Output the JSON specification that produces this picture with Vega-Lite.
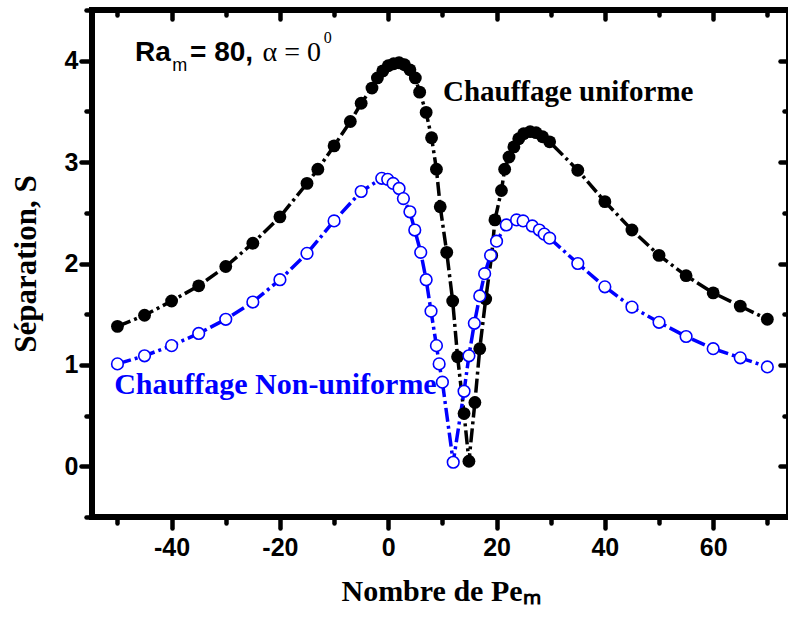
{
  "$schema": "https://vega.github.io/schema/vega-lite/v6.json",
  "width": 697,
  "height": 507,
  "autosize": {"type": "none"},
  "padding": {"left": 92, "top": 10, "right": 0, "bottom": 105},
  "background": "white",
  "config": {
    "view": {"stroke": "black", "strokeWidth": 6},
    "axis": {
      "domain": false,
      "grid": false,
      "tickColor": "black",
      "tickWidth": 4.5,
      "tickCap": "round",
      "labelFont": "Liberation Sans",
      "labelFontWeight": "bold",
      "labelFontSize": 25,
      "labelColor": "black",
      "titleFont": "Liberation Serif",
      "titleFontWeight": "bold",
      "titleFontSize": 30,
      "titleColor": "black"
    }
  },
  "data": {
    "values": [
      {"series": "Chauffage uniforme", "x": -50, "y": 1.38},
      {"series": "Chauffage uniforme", "x": -45, "y": 1.49},
      {"series": "Chauffage uniforme", "x": -40, "y": 1.63},
      {"series": "Chauffage uniforme", "x": -35, "y": 1.78},
      {"series": "Chauffage uniforme", "x": -30, "y": 1.97},
      {"series": "Chauffage uniforme", "x": -25, "y": 2.20},
      {"series": "Chauffage uniforme", "x": -20, "y": 2.46},
      {"series": "Chauffage uniforme", "x": -15, "y": 2.79},
      {"series": "Chauffage uniforme", "x": -13, "y": 2.93},
      {"series": "Chauffage uniforme", "x": -10, "y": 3.16},
      {"series": "Chauffage uniforme", "x": -7, "y": 3.40},
      {"series": "Chauffage uniforme", "x": -5, "y": 3.58},
      {"series": "Chauffage uniforme", "x": -3, "y": 3.73},
      {"series": "Chauffage uniforme", "x": -2, "y": 3.83},
      {"series": "Chauffage uniforme", "x": -1, "y": 3.90},
      {"series": "Chauffage uniforme", "x": 0, "y": 3.95},
      {"series": "Chauffage uniforme", "x": 1, "y": 3.97},
      {"series": "Chauffage uniforme", "x": 2, "y": 3.98},
      {"series": "Chauffage uniforme", "x": 3, "y": 3.96},
      {"series": "Chauffage uniforme", "x": 4, "y": 3.91},
      {"series": "Chauffage uniforme", "x": 5, "y": 3.83},
      {"series": "Chauffage uniforme", "x": 5.8, "y": 3.69},
      {"series": "Chauffage uniforme", "x": 7, "y": 3.49},
      {"series": "Chauffage uniforme", "x": 8, "y": 3.24},
      {"series": "Chauffage uniforme", "x": 8.9, "y": 2.93},
      {"series": "Chauffage uniforme", "x": 9.6, "y": 2.56},
      {"series": "Chauffage uniforme", "x": 10.8, "y": 2.11},
      {"series": "Chauffage uniforme", "x": 11.9, "y": 1.63},
      {"series": "Chauffage uniforme", "x": 12.8, "y": 1.08},
      {"series": "Chauffage uniforme", "x": 14, "y": 0.52},
      {"series": "Chauffage uniforme", "x": 14.9, "y": 0.05},
      {"series": "Chauffage uniforme", "x": 16, "y": 0.63},
      {"series": "Chauffage uniforme", "x": 16.9, "y": 1.16},
      {"series": "Chauffage uniforme", "x": 18, "y": 1.65},
      {"series": "Chauffage uniforme", "x": 19.1, "y": 2.08},
      {"series": "Chauffage uniforme", "x": 19.7, "y": 2.43},
      {"series": "Chauffage uniforme", "x": 20.9, "y": 2.72},
      {"series": "Chauffage uniforme", "x": 21.5, "y": 2.93},
      {"series": "Chauffage uniforme", "x": 22.3, "y": 3.05},
      {"series": "Chauffage uniforme", "x": 23.2, "y": 3.15},
      {"series": "Chauffage uniforme", "x": 24.1, "y": 3.23},
      {"series": "Chauffage uniforme", "x": 25, "y": 3.28},
      {"series": "Chauffage uniforme", "x": 26.2, "y": 3.30},
      {"series": "Chauffage uniforme", "x": 27.3, "y": 3.29},
      {"series": "Chauffage uniforme", "x": 28.5, "y": 3.25},
      {"series": "Chauffage uniforme", "x": 29.8, "y": 3.20},
      {"series": "Chauffage uniforme", "x": 35, "y": 2.92},
      {"series": "Chauffage uniforme", "x": 40, "y": 2.61},
      {"series": "Chauffage uniforme", "x": 45, "y": 2.33},
      {"series": "Chauffage uniforme", "x": 50, "y": 2.08},
      {"series": "Chauffage uniforme", "x": 55, "y": 1.88},
      {"series": "Chauffage uniforme", "x": 60, "y": 1.71},
      {"series": "Chauffage uniforme", "x": 65, "y": 1.58},
      {"series": "Chauffage uniforme", "x": 70, "y": 1.45},
      {"series": "Chauffage Non-uniforme", "x": -50, "y": 1.01},
      {"series": "Chauffage Non-uniforme", "x": -45, "y": 1.09},
      {"series": "Chauffage Non-uniforme", "x": -40, "y": 1.19},
      {"series": "Chauffage Non-uniforme", "x": -35, "y": 1.31},
      {"series": "Chauffage Non-uniforme", "x": -30, "y": 1.45},
      {"series": "Chauffage Non-uniforme", "x": -25, "y": 1.62},
      {"series": "Chauffage Non-uniforme", "x": -20, "y": 1.84},
      {"series": "Chauffage Non-uniforme", "x": -15, "y": 2.10},
      {"series": "Chauffage Non-uniforme", "x": -10, "y": 2.42},
      {"series": "Chauffage Non-uniforme", "x": -5, "y": 2.71},
      {"series": "Chauffage Non-uniforme", "x": -1.2, "y": 2.84},
      {"series": "Chauffage Non-uniforme", "x": -0.1, "y": 2.83},
      {"series": "Chauffage Non-uniforme", "x": 0.9, "y": 2.79},
      {"series": "Chauffage Non-uniforme", "x": 2.0, "y": 2.74},
      {"series": "Chauffage Non-uniforme", "x": 2.8, "y": 2.64},
      {"series": "Chauffage Non-uniforme", "x": 4.0, "y": 2.51},
      {"series": "Chauffage Non-uniforme", "x": 4.9, "y": 2.33},
      {"series": "Chauffage Non-uniforme", "x": 6.0, "y": 2.11},
      {"series": "Chauffage Non-uniforme", "x": 7.0, "y": 1.84},
      {"series": "Chauffage Non-uniforme", "x": 7.9, "y": 1.53},
      {"series": "Chauffage Non-uniforme", "x": 8.9, "y": 1.19},
      {"series": "Chauffage Non-uniforme", "x": 9.4, "y": 1.01},
      {"series": "Chauffage Non-uniforme", "x": 10.0, "y": 0.83},
      {"series": "Chauffage Non-uniforme", "x": 12.0, "y": 0.04},
      {"series": "Chauffage Non-uniforme", "x": 14.0, "y": 0.74},
      {"series": "Chauffage Non-uniforme", "x": 14.9, "y": 1.09},
      {"series": "Chauffage Non-uniforme", "x": 15.9, "y": 1.41},
      {"series": "Chauffage Non-uniforme", "x": 16.9, "y": 1.68},
      {"series": "Chauffage Non-uniforme", "x": 17.8, "y": 1.90},
      {"series": "Chauffage Non-uniforme", "x": 18.9, "y": 2.08},
      {"series": "Chauffage Non-uniforme", "x": 20.0, "y": 2.22},
      {"series": "Chauffage Non-uniforme", "x": 21.8, "y": 2.38},
      {"series": "Chauffage Non-uniforme", "x": 23.7, "y": 2.43},
      {"series": "Chauffage Non-uniforme", "x": 24.9, "y": 2.42},
      {"series": "Chauffage Non-uniforme", "x": 26.6, "y": 2.37},
      {"series": "Chauffage Non-uniforme", "x": 27.9, "y": 2.33},
      {"series": "Chauffage Non-uniforme", "x": 28.8, "y": 2.29},
      {"series": "Chauffage Non-uniforme", "x": 29.8, "y": 2.25},
      {"series": "Chauffage Non-uniforme", "x": 35, "y": 2.00},
      {"series": "Chauffage Non-uniforme", "x": 40, "y": 1.77},
      {"series": "Chauffage Non-uniforme", "x": 45, "y": 1.57},
      {"series": "Chauffage Non-uniforme", "x": 50, "y": 1.42},
      {"series": "Chauffage Non-uniforme", "x": 55, "y": 1.28},
      {"series": "Chauffage Non-uniforme", "x": 60, "y": 1.16},
      {"series": "Chauffage Non-uniforme", "x": 65, "y": 1.07},
      {"series": "Chauffage Non-uniforme", "x": 70, "y": 0.98}
    ]
  },
  "layer": [
    {
      "mark": {"type": "line", "strokeWidth": 3.5, "strokeDash": [14, 4, 3, 4]},
      "encoding": {
        "x": {
          "field": "x", "type": "quantitative",
          "scale": {"domain": [-54.7, 74], "nice": false, "zero": false},
          "axis": {
            "orient": "bottom",
            "values": [-50, -40, -30, -20, -10, 0, 10, 20, 30, 40, 50, 60, 70],
            "labelExpr": "datum.value % 20 === 0 ? '' + datum.value : ''",
            "tickSize": {"condition": {"test": "datum.value % 20 === 0", "value": 11}, "value": 6},
            "labelPadding": 7,
            "title": "Nombre de Peₘ",
            "titlePadding": 16
          }
        },
        "y": {
          "field": "y", "type": "quantitative",
          "scale": {"domain": [-0.5, 4.5], "nice": false, "zero": false},
          "axis": {
            "orient": "left",
            "values": [-0.5, 0, 0.5, 1, 1.5, 2, 2.5, 3, 3.5, 4, 4.5],
            "labelExpr": "datum.value % 1 === 0 ? '' + datum.value : ''",
            "tickSize": {"condition": {"test": "datum.value % 1 === 0", "value": 11}, "value": 6},
            "labelPadding": 3,
            "title": "Séparation, S",
            "titleFontSize": 31,
            "titlePadding": 22
          }
        },
        "color": {
          "field": "series", "type": "nominal",
          "scale": {"domain": ["Chauffage uniforme", "Chauffage Non-uniforme"], "range": ["#000000", "#0000ff"]},
          "legend": null
        }
      }
    },
    {
      "transform": [{"filter": "datum.series === 'Chauffage uniforme'"}],
      "mark": {"type": "circle", "size": 165, "color": "black", "opacity": 1},
      "encoding": {
        "x": {"field": "x", "type": "quantitative", "scale": {"domain": [-54.7, 74], "nice": false, "zero": false}, "axis": null},
        "y": {"field": "y", "type": "quantitative", "scale": {"domain": [-0.5, 4.5], "nice": false, "zero": false}, "axis": null}
      }
    },
    {
      "transform": [{"filter": "datum.series === 'Chauffage Non-uniforme'"}],
      "mark": {"type": "point", "shape": "circle", "size": 135, "filled": false, "fill": "white", "fillOpacity": 1, "stroke": "#0000ff", "strokeWidth": 1.6, "opacity": 1},
      "encoding": {
        "x": {"field": "x", "type": "quantitative", "scale": {"domain": [-54.7, 74], "nice": false, "zero": false}, "axis": null},
        "y": {"field": "y", "type": "quantitative", "scale": {"domain": [-0.5, 4.5], "nice": false, "zero": false}, "axis": null}
      }
    },
    {
      "data": {"values": [{"text": "Chauffage uniforme", "x": 10.1, "y": 3.606}]},
      "mark": {"type": "text", "align": "left", "baseline": "alphabetic", "font": "Liberation Serif", "fontWeight": "bold", "fontSize": 29, "color": "black"},
      "encoding": {
        "x": {
          "field": "x", "type": "quantitative",
          "scale": {"domain": [-54.7, 74], "nice": false, "zero": false},
          "axis": {
            "orient": "top", "title": null, "labels": false,
            "values": [-50, -40, -30, -20, -10, 0, 10, 20, 30, 40, 50, 60, 70],
            "tickSize": {"condition": {"test": "datum.value % 20 === 0", "value": -9}, "value": -5}
          }
        },
        "y": {
          "field": "y", "type": "quantitative",
          "scale": {"domain": [-0.5, 4.5], "nice": false, "zero": false},
          "axis": {
            "orient": "right", "title": null, "labels": false,
            "values": [-0.5, 0, 0.5, 1, 1.5, 2, 2.5, 3, 3.5, 4, 4.5],
            "tickSize": {"condition": {"test": "datum.value % 1 === 0", "value": -9}, "value": -5}
          }
        },
        "text": {"field": "text"}
      }
    },
    {
      "data": {"values": [{"text": "Chauffage Non-uniforme", "x": -50.6, "y": 0.715}]},
      "mark": {"type": "text", "align": "left", "baseline": "alphabetic", "font": "Liberation Serif", "fontWeight": "bold", "fontSize": 30, "color": "#0000ff"},
      "encoding": {
        "x": {"field": "x", "type": "quantitative", "scale": {"domain": [-54.7, 74], "nice": false, "zero": false}, "axis": null},
        "y": {"field": "y", "type": "quantitative", "scale": {"domain": [-0.5, 4.5], "nice": false, "zero": false}, "axis": null},
        "text": {"field": "text"}
      }
    },
    {
      "data": {"values": [{"text": "Ra", "x": -46.75, "y": 4.0}, {"text": "= 80,", "x": -36.6, "y": 4.0}]},
      "mark": {"type": "text", "align": "left", "baseline": "alphabetic", "font": "Liberation Sans", "fontWeight": "bold", "fontSize": 28, "color": "black"},
      "encoding": {
        "x": {"field": "x", "type": "quantitative", "scale": {"domain": [-54.7, 74], "nice": false, "zero": false}, "axis": null},
        "y": {"field": "y", "type": "quantitative", "scale": {"domain": [-0.5, 4.5], "nice": false, "zero": false}, "axis": null},
        "text": {"field": "text"}
      }
    },
    {
      "data": {"values": [{"text": "m", "x": -39.9, "y": 3.9}]},
      "mark": {"type": "text", "align": "left", "baseline": "alphabetic", "font": "Liberation Sans", "fontSize": 18, "color": "black"},
      "encoding": {
        "x": {"field": "x", "type": "quantitative", "scale": {"domain": [-54.7, 74], "nice": false, "zero": false}, "axis": null},
        "y": {"field": "y", "type": "quantitative", "scale": {"domain": [-0.5, 4.5], "nice": false, "zero": false}, "axis": null},
        "text": {"field": "text"}
      }
    },
    {
      "data": {"values": [{"text": "α = 0", "x": -23.2, "y": 4.0}]},
      "mark": {"type": "text", "align": "left", "baseline": "alphabetic", "font": "Liberation Serif", "fontSize": 28, "color": "black"},
      "encoding": {
        "x": {"field": "x", "type": "quantitative", "scale": {"domain": [-54.7, 74], "nice": false, "zero": false}, "axis": null},
        "y": {"field": "y", "type": "quantitative", "scale": {"domain": [-0.5, 4.5], "nice": false, "zero": false}, "axis": null},
        "text": {"field": "text"}
      }
    },
    {
      "data": {"values": [{"text": "0", "x": -11.9, "y": 4.17}]},
      "mark": {"type": "text", "align": "left", "baseline": "alphabetic", "font": "Liberation Serif", "fontSize": 16, "color": "black"},
      "encoding": {
        "x": {"field": "x", "type": "quantitative", "scale": {"domain": [-54.7, 74], "nice": false, "zero": false}, "axis": null},
        "y": {"field": "y", "type": "quantitative", "scale": {"domain": [-0.5, 4.5], "nice": false, "zero": false}, "axis": null},
        "text": {"field": "text"}
      }
    }
  ],
  "resolve": {
    "scale": {"x": "independent", "y": "independent"},
    "axis": {"x": "independent", "y": "independent"}
  }
}
